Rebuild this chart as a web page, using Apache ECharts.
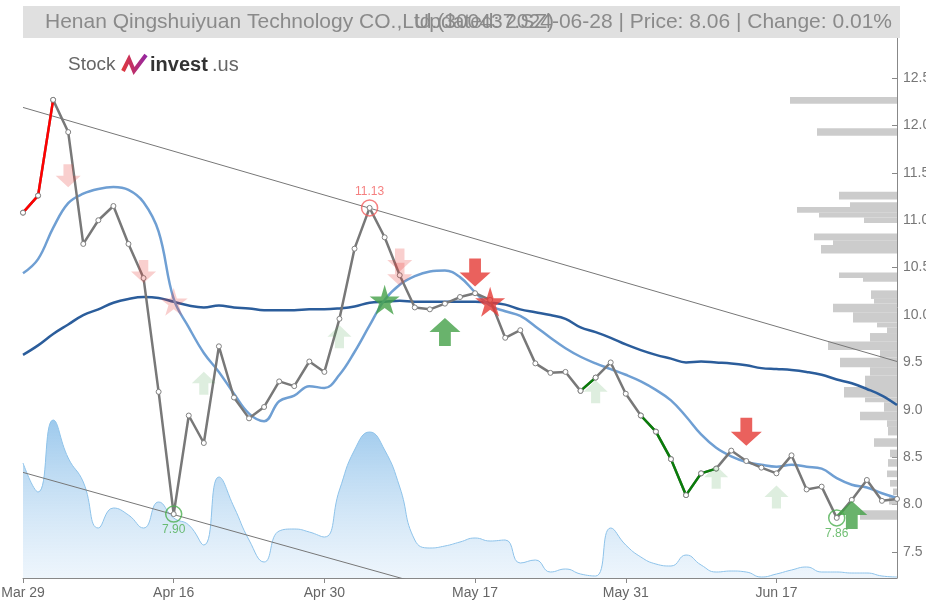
<!DOCTYPE html>
<html>
<head>
<meta charset="utf-8">
<script src="https://cdn.jsdelivr.net/npm/echarts@6/dist/echarts.min.js"></script>
<style>
  html, body { margin: 0; padding: 0; background: #fff; }
  #main { width: 926px; height: 608px; }
</style>
</head>
<body>
<div id="main"></div>
<script>
// trading days shown on the x axis
var dates = ['Mar 29','Apr 1','Apr 2','Apr 3','Apr 8','Apr 9','Apr 10','Apr 11','Apr 12','Apr 15',
  'Apr 16','Apr 17','Apr 18','Apr 19','Apr 22','Apr 23','Apr 24','Apr 25','Apr 26','Apr 29',
  'Apr 30','May 6','May 7','May 8','May 9','May 10','May 13','May 14','May 15','May 16',
  'May 17','May 20','May 21','May 22','May 23','May 24','May 27','May 28','May 29','May 30',
  'May 31','Jun 3','Jun 4','Jun 5','Jun 6','Jun 7','Jun 11','Jun 12','Jun 13','Jun 14',
  'Jun 17','Jun 18','Jun 19','Jun 20','Jun 21','Jun 24','Jun 25','Jun 26','Jun 27'];

// close price
var price = [11.08, 11.26, 12.27, 11.93, 10.75, 11.00, 11.15, 10.75, 10.39, 9.19,
  7.90, 8.94, 8.65, 9.67, 9.13, 8.91, 9.03, 9.30, 9.25, 9.51,
  9.40, 9.96, 10.70, 11.13, 10.82, 10.42, 10.08, 10.06, 10.12, 10.19,
  10.23, 10.16, 9.76, 9.84, 9.49, 9.39, 9.40, 9.20, 9.34, 9.50,
  9.17, 8.94, 8.77, 8.48, 8.10, 8.33, 8.38, 8.57, 8.46, 8.39,
  8.33, 8.52, 8.16, 8.19, 7.86, 8.05, 8.26, 8.04, 8.06];

// short and long moving averages
var maShort = [10.44, 10.59, 10.92, 11.18, 11.28, 11.33, 11.35, 11.32, 11.19, 10.88,
  10.17, 9.87, 9.60, 9.40, 9.17, 8.96, 8.88, 9.09, 9.15, 9.25,
  9.23, 9.37, 9.61, 9.89, 10.16, 10.32, 10.41, 10.46, 10.47, 10.40,
  10.24, 10.10, 10.04, 9.99, 9.88, 9.76, 9.65, 9.56, 9.49, 9.43,
  9.37, 9.30, 9.21, 9.10, 8.93, 8.74, 8.60, 8.51, 8.45, 8.42,
  8.40, 8.42, 8.40, 8.38, 8.28, 8.21, 8.18, 8.12, 8.07];
var maLong = [9.58, 9.68, 9.80, 9.90, 10.00, 10.06, 10.13, 10.17, 10.19, 10.18,
  10.14, 10.10, 10.08, 10.10, 10.08, 10.07, 10.05, 10.05, 10.05, 10.06,
  10.06, 10.07, 10.09, 10.13, 10.14, 10.15, 10.14, 10.14, 10.14, 10.14,
  10.14, 10.13, 10.11, 10.06, 10.03, 10.00, 9.96, 9.87, 9.82, 9.76,
  9.69, 9.63, 9.58, 9.54, 9.50, 9.51, 9.50, 9.49, 9.47, 9.44,
  9.43, 9.42, 9.40, 9.37, 9.32, 9.28, 9.22, 9.15, 9.05];

// volume (thousand shares)
var volume = [1150, 860, 1580, 1200, 960, 500, 700, 630, 500, 760,
  600, 530, 330, 1010, 710, 380, 160, 470, 490, 460,
  410, 880, 1280, 1460, 1280, 910, 380, 300, 320, 360,
  400, 370, 380, 150, 180, 60, 90, 40, 20, 500,
  330, 210, 140, 120, 230, 130, 60, 70, 60, 10,
  40, 80, 110, 60, 60, 50, 50, 20, 10];

// trend channel end values (first and last day)
var trendUpper = [12.19, 9.51];
var trendLower = [8.34, 5.76];

// volume profile by price band
var profileLow  = [12.23, 11.89, 11.22, 11.14, 11.08, 11.03, 10.97, 10.79, 10.74, 10.65,
  10.39, 10.35, 10.17, 10.12, 10.03, 9.92, 9.87, 9.81, 9.72, 9.63,
  9.55, 9.45, 9.36, 9.24, 9.13, 9.08, 8.98, 8.89, 8.82, 8.73,
  8.61, 8.50, 8.40, 8.29, 8.19, 8.10, 8.00, 7.84];
var profileHigh = [12.30, 11.97, 11.30, 11.19, 11.14, 11.08, 11.03, 10.86, 10.79, 10.74,
  10.45, 10.39, 10.26, 10.17, 10.12, 10.03, 9.92, 9.87, 9.81, 9.72,
  9.63, 9.55, 9.45, 9.36, 9.24, 9.13, 9.08, 8.98, 8.89, 8.82,
  8.70, 8.58, 8.48, 8.36, 8.26, 8.17, 8.08, 7.94];
var profileVol  = [1070, 800, 580, 470, 1000, 780, 330, 830, 640, 760,
  580, 340, 260, 230, 640, 440, 200, 100, 270, 690,
  170, 570, 270, 320, 530, 320, 130, 370, 100, 90,
  230, 70, 90, 100, 70, 40, 80, 370];

// signals: [day index, price]
var sellWeak   = [[3, 11.47], [8, 10.46], [25, 10.58], [25, 10.43]];
var buyWeak    = [[12, 9.28], [21, 9.77], [38, 9.19], [46, 8.29], [50, 8.08]];
var buyStrong  = [[28, 9.82], [55, 7.89]];
var sellStrong = [[30, 10.45], [48, 8.77]];
var starFaded  = [[10, 10.14]];
var starBuy    = [[24, 10.16]];
var starSell   = [[31, 10.14]];
var highMarks  = [[23, 11.13]];
var lowMarks   = [[10, 7.90], [54, 7.86]];

var yTicks = [7.5, 8.0, 8.5, 9.0, 9.5, 10.0, 10.5, 11.0, 11.5, 12.0, 12.5];

var redRanges = [[0, 2]];
var greenRanges = [[37, 38], [41, 46]];

function pick(ranges) {
  return price.map(function (v, i) {
    for (var k = 0; k < ranges.length; k++) {
      if (i >= ranges[k][0] && i <= ranges[k][1]) return v;
    }
    return null;
  });
}

var upArrow = 'path://M50,0 L100,50 L69,50 L69,100 L31,100 L31,50 L0,50 Z';
var downArrow = 'path://M31,0 L69,0 L69,50 L100,50 L50,100 L0,50 L31,50 Z';
var star = 'path://M50,0 L61,35 L98,35 L68,57 L79,91 L50,70 L21,91 L32,57 L2,35 L39,35 Z';

var dot = { color: '#fff', borderColor: '#808080', borderWidth: 1 };

function signal(data, symbol, size, color, z) {
  return {
    type: 'scatter', data: data, symbol: symbol, symbolSize: size,
    itemStyle: { color: color }, z: z, silent: true
  };
}

var chart = echarts.init(document.getElementById('main'));

chart.setOption({
  animation: false,
  textStyle: { fontFamily: 'Liberation Sans' },
  grid: { left: 23, right: 29, top: 37, bottom: 30, containLabel: false, outerBoundsMode: 'none' },
  xAxis: [{
    type: 'category',
    data: dates,
    boundaryGap: false,
    axisLine: { lineStyle: { color: '#888' } },
    axisTick: { interval: 9, length: 5, lineStyle: { color: '#888' } },
    axisLabel: { interval: 9, color: '#666', fontSize: 14, margin: 8 },
    splitLine: { show: false }
  }, {
    type: 'value', inverse: true, min: 0, max: 8740, show: false
  }],
  yAxis: [{
    type: 'value',
    position: 'right',
    min: 7.226,
    max: 12.933,
    axisLine: { show: true, lineStyle: { color: '#888' } },
    axisTick: { show: true, inside: true, length: 5, customValues: yTicks, lineStyle: { color: '#888' } },
    axisLabel: {
      customValues: yTicks, color: '#777', fontSize: 14, margin: 6,
      formatter: function (v) { return v.toFixed(1); }
    },
    splitLine: { show: false }
  }, {
    type: 'value', min: 0, max: 5410, show: false
  }],
  graphic: [
    { type: 'rect', shape: { x: 23, y: 6, width: 877, height: 32 }, style: { fill: '#e0e0e0' }, z: 10 },
    { type: 'text', x: 45, y: 22, z: 11,
      style: { text: 'Henan Qingshuiyuan Technology CO.,Ltd.(300437.SZ)', fill: '#8a8a8a',
        font: '21px "Liberation Sans"', verticalAlign: 'middle' } },
    { type: 'text', x: 892, y: 22, z: 11,
      style: { text: 'Updated: 2024-06-28 | Price: 8.06 | Change: 0.01%', fill: '#8a8a8a',
        font: '21px "Liberation Sans"', align: 'right', verticalAlign: 'middle' } },
    { type: 'text', x: 68, y: 65, z: 11,
      style: { text: 'Stock', fill: '#666', font: '19px "Liberation Sans"', verticalAlign: 'middle' } },
    { type: 'polyline', z: 11,
      shape: { points: [[123, 71], [129, 59], [134, 71], [146, 55]] },
      style: { stroke: new echarts.graphic.LinearGradient(0, 0, 1, 0, [
        { offset: 0, color: '#e53935' }, { offset: 1, color: '#8e24aa' }]), lineWidth: 4, fill: null } },
    { type: 'text', x: 150, y: 65, z: 11,
      style: { text: 'invest', fill: '#333', font: 'bold 20px "Liberation Sans"', verticalAlign: 'middle' } },
    { type: 'text', x: 212, y: 65, z: 11,
      style: { text: '.us', fill: '#666', font: '20px "Liberation Sans"', verticalAlign: 'middle' } }
  ],
  series: [
    {
      name: 'Volume', type: 'line', xAxisIndex: 0, yAxisIndex: 1, data: volume,
      smooth: 0.5, symbol: 'none', z: 0, silent: true,
      lineStyle: { color: '#8ec3ea', width: 1 },
      areaStyle: {
        color: new echarts.graphic.LinearGradient(0, 0, 0, 1, [
          { offset: 0, color: 'rgba(100,170,226,0.9)' },
          { offset: 1, color: 'rgba(214,232,248,0.6)' }
        ])
      }
    },
    {
      name: 'Profile', type: 'custom', xAxisIndex: 1, yAxisIndex: 0, z: 1, silent: true,
      data: profileVol.map(function (v, i) { return [v, profileLow[i], profileHigh[i]]; }),
      encode: { x: 0, y: [1, 2] },
      renderItem: function (params, api) {
        var a = api.coord([api.value(0), api.value(2)]);
        var b = api.coord([0, api.value(1)]);
        return { type: 'rect', shape: { x: a[0], y: a[1], width: b[0] - a[0], height: b[1] - a[1] },
          style: { fill: '#cccccc' } };
      }
    },
    {
      type: 'line', data: [[0, trendUpper[0]], [58, trendUpper[1]]], symbol: 'none', z: 2, silent: true,
      lineStyle: { color: '#777', width: 1 }
    },
    {
      type: 'line', data: [[0, trendLower[0]], [58, trendLower[1]]], symbol: 'none', z: 2, silent: true,
      lineStyle: { color: '#777', width: 1 }
    },
    {
      name: 'MA long', type: 'line', data: maLong, smooth: 0.4, symbol: 'none', z: 3,
      lineStyle: { color: '#2b5d9b', width: 2.5 }
    },
    {
      name: 'MA short', type: 'line', data: maShort, smooth: 0.4, symbol: 'none', z: 3,
      lineStyle: { color: '#6f9fd3', width: 2.5 }
    },
    {
      name: 'Price', type: 'line', data: price, z: 4,
      symbol: 'circle', symbolSize: 5, showAllSymbol: true,
      itemStyle: dot, lineStyle: { color: '#787878', width: 2.5 }
    },
    {
      type: 'line', data: pick(redRanges), z: 5, connectNulls: false,
      symbol: 'circle', symbolSize: 5, showAllSymbol: true,
      itemStyle: dot, lineStyle: { color: '#ff0000', width: 2.5 }
    },
    {
      type: 'line', data: pick(greenRanges), z: 5, connectNulls: false,
      symbol: 'circle', symbolSize: 5, showAllSymbol: true,
      itemStyle: dot, lineStyle: { color: '#0a7d0a', width: 2.5 }
    },
    signal(sellWeak, downArrow, [25, 23], 'rgba(229,57,53,0.3)', 6),
    signal(buyWeak, upArrow, [24, 23], 'rgba(67,160,71,0.22)', 6),
    signal(starFaded, star, 28, 'rgba(229,57,53,0.3)', 6),
    signal(buyStrong, upArrow, [31, 28], '#43a047', 7),
    signal(sellStrong, downArrow, [31, 28], '#e53935', 7),
    signal(starBuy, star, 30, '#43a047', 7),
    signal(starSell, star, 30, '#e53935', 7),
    {
      type: 'scatter', data: highMarks, symbol: 'circle', symbolSize: 16, z: 8, silent: true,
      itemStyle: { color: 'rgba(0,0,0,0)', borderColor: '#f26060', borderWidth: 1.5 },
      label: { show: true, position: 'top', distance: 1, color: '#f26060', fontSize: 12,
        formatter: function (p) { return p.value[1].toFixed(2); } }
    },
    {
      type: 'scatter', data: lowMarks, symbol: 'circle', symbolSize: 16, z: 8, silent: true,
      itemStyle: { color: 'rgba(0,0,0,0)', borderColor: '#4caf50', borderWidth: 1.5 },
      label: { show: true, position: 'bottom', distance: 1, color: '#4caf50', fontSize: 12,
        formatter: function (p) { return p.value[1].toFixed(2); } }
    }
  ]
});
</script>
</body>
</html>
